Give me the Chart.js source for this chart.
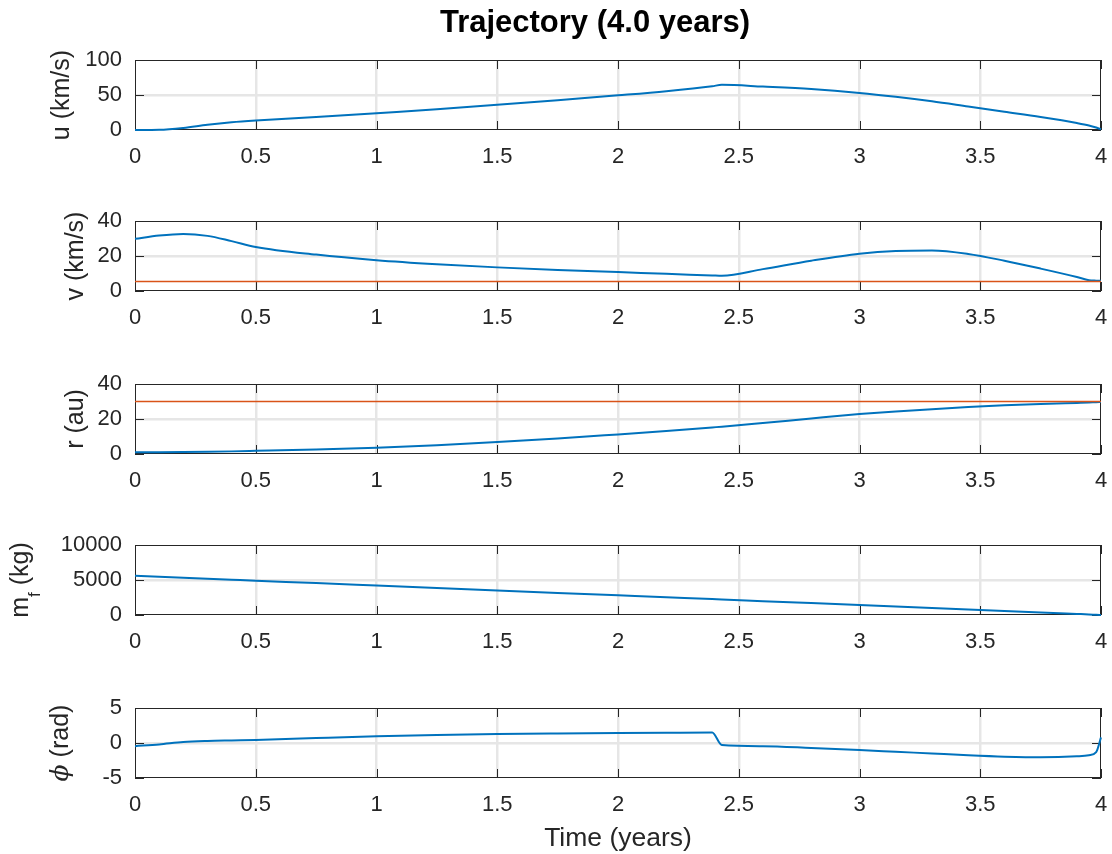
<!DOCTYPE html>
<html lang="en">

<head>
    <meta charset="UTF-8">
    <title>Trajectory (4.0 years)</title>
    <script src="https://cdn.jsdelivr.net/npm/chart.js"></script>
    <style>
        body { margin: 0; background: #fff; }
        #fig { position: relative; width: 1112px; height: 854px; background: #fff; }
        #fig canvas { position: absolute; left: 0; }
    </style>
</head>

<body>
    <div id="fig">
        <canvas id="plot-u"></canvas>
        <canvas id="plot-v"></canvas>
        <canvas id="plot-r"></canvas>
        <canvas id="plot-m"></canvas>
        <canvas id="plot-phi"></canvas>
    </div>

    <script>
        // time axis (years) shared by every trace
        const time = [0, 0.1, 0.2, 0.3, 0.4, 0.5, 0.75, 1, 1.25, 1.5, 1.75, 2, 2.2, 2.39, 2.43, 2.6, 2.8, 3, 3.15, 3.3, 3.45, 3.6, 3.75, 3.9, 3.95, 3.98, 4];

        // radial velocity u (km/s)
        const uKms = [0, 0.3, 3, 7.5, 11, 13.5, 18.5, 24, 29.5, 36, 42.5, 49.5, 55.5, 62.5, 64.5, 62, 58.5, 53, 47.5, 41, 33.5, 26, 18.5, 10, 6.5, 3.5, 1];
        // tangential velocity v (km/s)
        const vKms = [29.8, 31.7, 32.6, 31.5, 28.5, 25.2, 20.8, 17.6, 15.3, 13.5, 12, 10.8, 9.8, 8.9, 8.7, 12.5, 17.3, 21.3, 22.9, 23.2, 21.2, 17.3, 12.8, 8, 6.2, 5.9, 5.8];
        // distance r (au)
        const rAu = [1, 1.05, 1.15, 1.3, 1.5, 1.8, 2.6, 3.6, 5, 6.8, 8.8, 11.2, 13.2, 15.2, 15.6, 17.7, 20.3, 22.8, 24.3, 25.6, 26.8, 27.8, 28.6, 29.2, 29.4, 29.6, 29.7];
        // propellant mass m_f (kg)
        const mfKg = [5600, 5460, 5320, 5180, 5040, 4900, 4560, 4210, 3860, 3510, 3160, 2810, 2530, 2270, 2210, 1980, 1700, 1420, 1210, 1000, 790, 580, 360, 150, 80, 30, 0];
        // thrust angle phi (rad)
        const phiRad = [-0.45, -0.2, 0.15, 0.3, 0.37, 0.43, 0.7, 0.95, 1.13, 1.27, 1.36, 1.43, 1.47, 1.5, -0.3, -0.45, -0.7, -1.0, -1.25, -1.5, -1.75, -1.95, -2.05, -1.9, -1.75, -1.3, 0.8];

        // target reference levels (orange lines)
        const targetV = 5.43;
        const targetR = 30.07;

        const xTicks = [0, 0.5, 1, 1.5, 2, 2.5, 3, 3.5, 4];

        const BLUE = '#0072BD';
        const ORANGE = '#D95319';
        const AXIS = '#262626';
        const GRID = '#e6e6e6';
        const FONT = '"Liberation Sans", Arial, Helvetica, sans-serif';

        function series(ys) {
            return time.map((t, i) => ({ x: t, y: ys[i] }));
        }

        function level(y) {
            return [{ x: time[0], y: y }, { x: time[time.length - 1], y: y }];
        }

        // box, inward tick marks, rotated y label and figure title, matlab style
        const matlabAxes = {
            id: 'matlabAxes',
            beforeDatasetsDraw(chart) {
                const { ctx, chartArea: a, scales } = chart;
                const len = 9;
                ctx.save();
                ctx.strokeStyle = AXIS;
                ctx.lineWidth = 1;
                ctx.beginPath();
                scales.x.ticks.forEach(t => {
                    const px = Math.round(scales.x.getPixelForValue(t.value)) + 0.5;
                    ctx.moveTo(px, a.bottom); ctx.lineTo(px, a.bottom - len);
                    ctx.moveTo(px, a.top); ctx.lineTo(px, a.top + len);
                });
                scales.y.ticks.forEach(t => {
                    const py = Math.round(scales.y.getPixelForValue(t.value)) + 0.5;
                    ctx.moveTo(a.left, py); ctx.lineTo(a.left + len, py);
                    ctx.moveTo(a.right, py); ctx.lineTo(a.right - len, py);
                });
                ctx.stroke();
                ctx.strokeRect(Math.round(a.left) + 0.5, Math.round(a.top) + 0.5, Math.round(a.width) - 1, Math.round(a.height) - 1);
                ctx.restore();
            },
            afterDraw(chart, args, opts) {
                const { ctx, chartArea: a } = chart;
                if (opts.heading) {
                    ctx.save();
                    ctx.fillStyle = '#000';
                    ctx.font = 'bold 31px ' + FONT;
                    ctx.textAlign = 'center';
                    ctx.textBaseline = 'middle';
                    ctx.fillText(opts.heading, 595, 23);
                    ctx.restore();
                }
                if (!opts.parts) return;
                ctx.save();
                ctx.fillStyle = AXIS;
                ctx.textBaseline = 'alphabetic';
                ctx.textAlign = 'left';
                let total = 0;
                opts.parts.forEach(p => { ctx.font = p.font; total += ctx.measureText(p.text).width; });
                ctx.translate(opts.x, (a.top + a.bottom) / 2);
                ctx.rotate(-Math.PI / 2);
                let pos = -total / 2;
                opts.parts.forEach(p => {
                    ctx.font = p.font;
                    ctx.fillText(p.text, pos, 8 + (p.dy || 0));
                    pos += ctx.measureText(p.text).width;
                });
                ctx.restore();
            }
        };

        const labelFont = '25px ' + FONT;

        function subplot(cfg) {
            const canvas = document.getElementById(cfg.id);
            canvas.width = 1112;
            canvas.height = cfg.height;
            canvas.style.top = cfg.top + 'px';

            const yMin = cfg.yTicks[0];
            const yMax = cfg.yTicks[cfg.yTicks.length - 1];

            return new Chart(canvas, {
                type: 'line',
                data: { datasets: cfg.datasets },
                options: {
                    responsive: false,
                    animation: false,
                    devicePixelRatio: 1,
                    layout: { padding: { top: cfg.padTop, right: 11, left: 0, bottom: 0 } },
                    plugins: {
                        legend: { display: false },
                        tooltip: { enabled: false },
                        title: { display: false },
                        matlabAxes: { x: cfg.labelX, parts: cfg.label, heading: cfg.heading }
                    },
                    scales: {
                        x: {
                            type: 'linear',
                            min: 0,
                            max: 4,
                            border: { display: false },
                            grid: {
                                drawTicks: false,
                                lineWidth: 2.5,
                                color: c => (c.tick && (c.tick.value === 0 || c.tick.value === 4)) ? 'rgba(0,0,0,0)' : GRID
                            },
                            afterBuildTicks: s => { s.ticks = xTicks.map(v => ({ value: v })); },
                            ticks: {
                                color: AXIS,
                                font: { family: FONT, size: 22 },
                                padding: 14,
                                maxRotation: 0,
                                autoSkip: false,
                                callback: v => String(v)
                            },
                            title: cfg.xTitle || { display: false },
                            afterFit: s => {
                                s.height = cfg.xHeight;
                                s.paddingLeft = 0;
                                s.paddingRight = 0;
                            }
                        },
                        y: {
                            min: yMin,
                            max: yMax,
                            border: { display: false },
                            grid: {
                                drawTicks: false,
                                lineWidth: 2.5,
                                color: c => (c.tick && (c.tick.value === yMin || c.tick.value === yMax)) ? 'rgba(0,0,0,0)' : GRID
                            },
                            afterBuildTicks: s => { s.ticks = cfg.yTicks.map(v => ({ value: v })); },
                            ticks: {
                                color: AXIS,
                                font: { family: FONT, size: 22 },
                                padding: 13,
                                autoSkip: false,
                                callback: v => String(v)
                            },
                            afterFit: s => {
                                s.width = 135;
                                s.paddingTop = 0;
                                s.paddingBottom = 0;
                            }
                        }
                    }
                },
                plugins: [matlabAxes]
            });
        }

        function blue(ys) {
            return { data: series(ys), borderColor: BLUE, borderWidth: 2, pointRadius: 0, cubicInterpolationMode: 'monotone', fill: false, clip: false, order: 1 };
        }

        function orange(y) {
            return { data: level(y), borderColor: ORANGE, borderWidth: 1.5, pointRadius: 0, tension: 0, fill: false, clip: false, order: 0 };
        }

        subplot({
            id: 'plot-u', top: 0, height: 180, padTop: 60, xHeight: 50,
            heading: 'Trajectory (4.0 years)',
            yTicks: [0, 50, 100],
            datasets: [blue(uKms)],
            labelX: 61,
            label: [{ text: 'u (km/s)', font: labelFont }]
        });

        subplot({
            id: 'plot-v', top: 209, height: 132, padTop: 12, xHeight: 50,
            yTicks: [0, 20, 40],
            datasets: [blue(vKms), orange(targetV)],
            labelX: 75,
            label: [{ text: 'v (km/s)', font: labelFont }]
        });

        subplot({
            id: 'plot-r', top: 372, height: 132, padTop: 12, xHeight: 50,
            yTicks: [0, 20, 40],
            datasets: [blue(rAu), orange(targetR)],
            labelX: 75,
            label: [{ text: 'r (au)', font: labelFont }]
        });

        subplot({
            id: 'plot-m', top: 533, height: 132, padTop: 12, xHeight: 50,
            yTicks: [0, 5000, 10000],
            datasets: [blue(mfKg)],
            labelX: 20,
            label: [
                { text: 'm', font: labelFont },
                { text: 'f', font: '17px ' + FONT, dy: 12 },
                { text: ' (kg)', font: labelFont }
            ]
        });

        subplot({
            id: 'plot-phi', top: 696, height: 158, padTop: 12, xHeight: 76,
            xTitle: {
                display: true,
                text: 'Time (years)',
                color: AXIS,
                font: { family: FONT, size: 26.5 },
                padding: { top: 0, bottom: -1 }
            },
            yTicks: [-5, 0, 5],
            datasets: [blue(phiRad)],
            labelX: 60,
            label: [
                { text: '\u03D5', font: 'italic 25px "DejaVu Serif", serif' },
                { text: ' (rad)', font: labelFont }
            ]
        });
    </script>
</body>

</html>
